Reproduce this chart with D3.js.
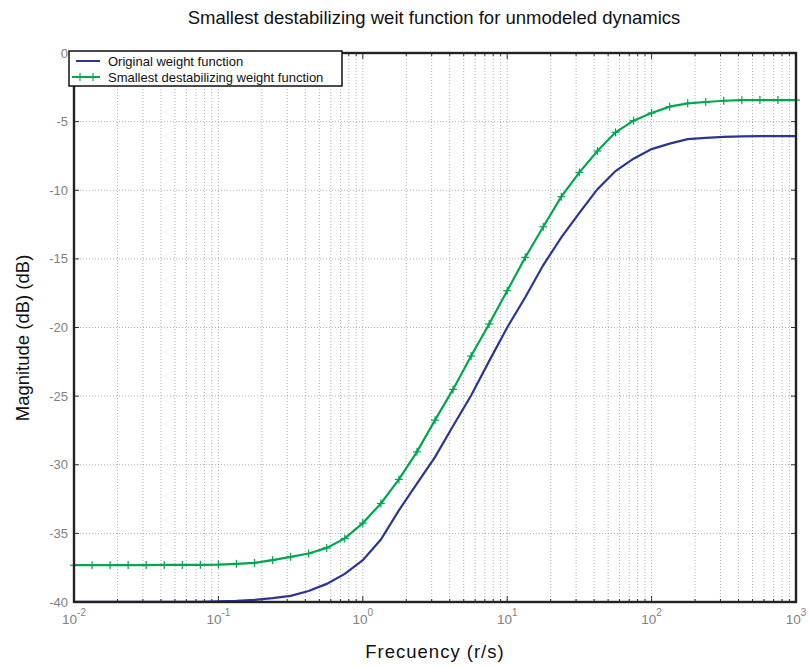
<!DOCTYPE html>
<html>
<head>
<meta charset="utf-8">
<script src="https://cdn.jsdelivr.net/npm/d3@7"></script>
<style>
  html, body { margin: 0; padding: 0; background: #fff; }
  svg { display: block; font-family: "Liberation Sans", Arial, Helvetica, sans-serif; }
</style>
</head>
<body>
<svg id="chart" width="809" height="667"></svg>
<script>
// ---- data ----
const frequencies = [0.01, 0.01334, 0.01778, 0.02371, 0.03162, 0.04217, 0.05623, 0.07499,
  0.1, 0.1334, 0.1778, 0.2371, 0.3162, 0.4217, 0.5623, 0.7499,
  1, 1.334, 1.778, 2.371, 3.162, 4.217, 5.623, 7.499,
  10, 13.34, 17.78, 23.71, 31.62, 42.17, 56.23, 74.99,
  100, 133.4, 177.8, 237.1, 316.2, 421.7, 562.3, 749.9, 1000];

const originalWeight = [-39.98, -39.98, -39.98, -39.98, -39.98, -39.98, -39.98, -39.98,
  -39.96, -39.92, -39.85, -39.72, -39.55, -39.2, -38.68, -37.95,
  -36.95, -35.45, -33.32, -31.38, -29.44, -27.18, -24.95, -22.45,
  -20.0, -17.8, -15.45, -13.44, -11.65, -9.92, -8.6, -7.7,
  -7.0, -6.6, -6.28, -6.18, -6.11, -6.08, -6.06, -6.05, -6.05];

const smallestWeight = [-37.32, -37.32, -37.32, -37.31, -37.31, -37.30, -37.30, -37.29,
  -37.27, -37.22, -37.15, -36.95, -36.71, -36.47, -36.06, -35.37,
  -34.25, -32.82, -31.07, -29.06, -26.75, -24.51, -22.08, -19.75,
  -17.32, -14.89, -12.66, -10.47, -8.70, -7.14, -5.78, -4.93,
  -4.37, -3.91, -3.67, -3.57, -3.48, -3.44, -3.43, -3.43, -3.43];

const yTicks = [0, -5, -10, -15, -20, -25, -30, -35, -40];
const xDecadeExponents = [-2, -1, 0, 1, 2, 3];
const seriesNames = ["Original weight function", "Smallest destabilizing weight function"];
const titleText = "Smallest destabilizing weit function for unmodeled dynamics";
const xLabelText = "Frecuency (r/s)";
const yLabelText = "Magnitude (dB) (dB)";

// ---- layout ----
const svg = d3.select("#chart");
const L = 74, R = 796, T = 53, B = 602;
const x = d3.scaleLog().domain([0.01, 1000]).range([L, R]);
const y = d3.scaleLinear().domain([-40, 0]).range([B, T]);
const blue = "#2c3592", green = "#00a651", gridCol = "#999", tickTextCol = "#808080";

// grid
const minorX = [];
xDecadeExponents.slice(0, -1).forEach(e => {
  for (let k = 1; k <= 9; k++) minorX.push(k * Math.pow(10, e));
});
const grid = svg.append("g");
grid.selectAll("line.vx").data(minorX.filter(v => v > 0.01)).enter().append("line")
  .attr("x1", d => x(d)).attr("x2", d => x(d)).attr("y1", T).attr("y2", B)
  .attr("stroke", gridCol).attr("stroke-width", 0.8).attr("stroke-dasharray", "1,2");
grid.selectAll("line.hy").data(yTicks.filter(v => v > -40 && v < 0)).enter().append("line")
  .attr("x1", L).attr("x2", R).attr("y1", d => y(d)).attr("y2", d => y(d))
  .attr("stroke", gridCol).attr("stroke-width", 0.8).attr("stroke-dasharray", "1,2");

// inner ticks
const ticks = svg.append("g").attr("stroke", "#333").attr("stroke-width", 1);
yTicks.forEach(v => {
  ticks.append("line").attr("x1", L).attr("x2", L + 5).attr("y1", y(v)).attr("y2", y(v));
  ticks.append("line").attr("x1", R).attr("x2", R - 5).attr("y1", y(v)).attr("y2", y(v));
});
minorX.concat([1000]).forEach(v => {
  const lg10 = Math.log10(v);
  const len = Math.abs(lg10 - Math.round(lg10)) < 1e-6 ? 6 : 3;
  ticks.append("line").attr("x1", x(v)).attr("x2", x(v)).attr("y1", B).attr("y2", B - len);
  ticks.append("line").attr("x1", x(v)).attr("x2", x(v)).attr("y1", T).attr("y2", T + len);
});

// lines
const line = d3.line().x((d, i) => x(frequencies[i])).y(d => y(d));
svg.append("path").datum(originalWeight).attr("d", line)
  .attr("fill", "none").attr("stroke", blue).attr("stroke-width", 2.2);
svg.append("path").datum(smallestWeight).attr("d", line)
  .attr("fill", "none").attr("stroke", green).attr("stroke-width", 2.2);
const mk = svg.append("g").attr("stroke", green).attr("stroke-width", 1.2);
smallestWeight.forEach((v, i) => {
  const cx = x(frequencies[i]), cy = y(v);
  mk.append("line").attr("x1", cx - 4).attr("x2", cx + 4).attr("y1", cy).attr("y2", cy);
  mk.append("line").attr("x1", cx).attr("x2", cx).attr("y1", cy - 4).attr("y2", cy + 4);
});

// frame
svg.append("rect").attr("x", L).attr("y", T).attr("width", R - L).attr("height", B - T)
  .attr("fill", "none").attr("stroke", "#222").attr("stroke-width", 2.4);

// y tick labels
svg.append("g").selectAll("text").data(yTicks).enter().append("text")
  .attr("x", L - 6).attr("y", d => y(d) + 4.5)
  .attr("text-anchor", "end").attr("font-size", 13).attr("fill", tickTextCol)
  .text(d => d);

// x tick labels
const xl = svg.append("g");
xDecadeExponents.forEach(e => {
  const t = xl.append("text").attr("x", x(Math.pow(10, e))).attr("y", B + 22)
    .attr("text-anchor", "middle").attr("font-size", 13.5).attr("fill", tickTextCol);
  t.append("tspan").text("10");
  t.append("tspan").attr("dy", -8).attr("font-size", 10).text(e);
});

// labels
svg.append("text").attr("x", 434).attr("y", 24).attr("text-anchor", "middle")
  .attr("font-size", 18.5).attr("fill", "#111").text(titleText);
svg.append("text").attr("x", 435).attr("y", 658).attr("text-anchor", "middle")
  .attr("font-size", 18.5).attr("letter-spacing", 1).attr("fill", "#111").text(xLabelText);
svg.append("text").attr("transform", "translate(29,338) rotate(-90)").attr("text-anchor", "middle")
  .attr("font-size", 18.5).attr("fill", "#111").text(yLabelText);

// legend
const lg = svg.append("g");
lg.append("rect").attr("x", 69).attr("y", 51).attr("width", 273).attr("height", 35)
  .attr("fill", "#fff").attr("stroke", "#111").attr("stroke-width", 1.5);
lg.append("line").attr("x1", 76).attr("x2", 100).attr("y1", 61).attr("y2", 61)
  .attr("stroke", blue).attr("stroke-width", 2);
lg.append("line").attr("x1", 72).attr("x2", 100).attr("y1", 77).attr("y2", 77)
  .attr("stroke", green).attr("stroke-width", 2);
[80, 93].forEach(cx => {
  lg.append("line").attr("x1", cx - 4).attr("x2", cx + 4).attr("y1", 77).attr("y2", 77).attr("stroke", green).attr("stroke-width", 1.2);
  lg.append("line").attr("x1", cx).attr("x2", cx).attr("y1", 73).attr("y2", 81).attr("stroke", green).attr("stroke-width", 1.2);
});
lg.selectAll("text").data(seriesNames).enter().append("text")
  .attr("x", 108).attr("y", (d, i) => 66 + i * 16)
  .attr("font-size", 13).attr("fill", "#111").text(d => d);
</script>
</body>
</html>
